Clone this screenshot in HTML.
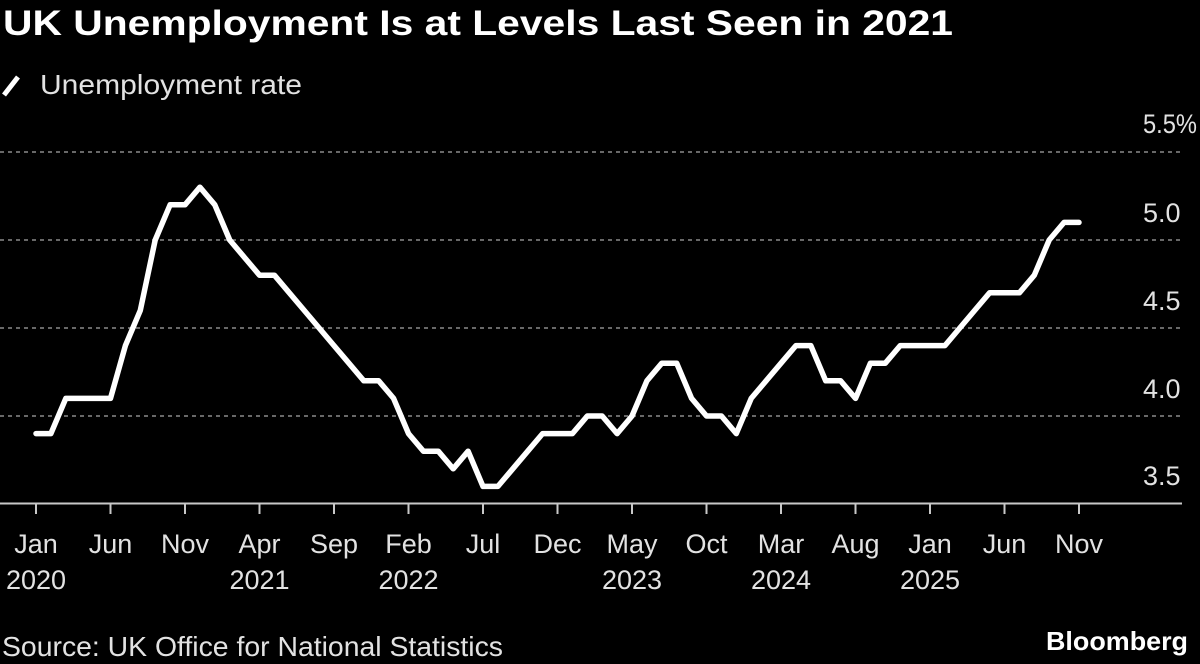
<!DOCTYPE html>
<html>
<head>
<meta charset="utf-8">
<style>
  html, body { margin: 0; padding: 0; background: #000; }
  body { width: 1200px; height: 664px; overflow: hidden; }
  svg { display: block; }
  text { font-family: "Liberation Sans", "DejaVu Sans", sans-serif; }
</style>
</head>
<body>
<svg width="1200" height="664" viewBox="0 0 1200 664" xmlns="http://www.w3.org/2000/svg">
  <rect x="0" y="0" width="1200" height="664" fill="#000"/>

  <!-- Title -->
  <text x="3" y="35" font-size="35" font-weight="bold" fill="#ffffff" textLength="950" lengthAdjust="spacingAndGlyphs">UK Unemployment Is at Levels Last Seen in 2021</text>

  <!-- Legend -->
  <line x1="4" y1="95" x2="18" y2="77" stroke="#ffffff" stroke-width="5" stroke-linecap="butt"/>
  <text x="40" y="94" font-size="28" fill="#e2e2e2" textLength="262" lengthAdjust="spacingAndGlyphs">Unemployment rate</text>

  <!-- Gridlines -->
  <g stroke="#8a8a8a" stroke-width="1.6" stroke-dasharray="4 4">
    <line x1="0" y1="152" x2="1182" y2="152"/>
    <line x1="0" y1="240" x2="1182" y2="240"/>
    <line x1="0" y1="328" x2="1182" y2="328"/>
    <line x1="0" y1="416" x2="1182" y2="416"/>
  </g>

  <!-- Baseline -->
  <line x1="0" y1="503.5" x2="1182" y2="503.5" stroke="#c8c8c8" stroke-width="2"/>

  <!-- Ticks -->
  <g stroke="#c8c8c8" stroke-width="2">
    <line x1="36" y1="503" x2="36" y2="514"/>
    <line x1="110.5" y1="503" x2="110.5" y2="514"/>
    <line x1="185" y1="503" x2="185" y2="514"/>
    <line x1="259.5" y1="503" x2="259.5" y2="514"/>
    <line x1="334" y1="503" x2="334" y2="514"/>
    <line x1="408.5" y1="503" x2="408.5" y2="514"/>
    <line x1="483" y1="503" x2="483" y2="514"/>
    <line x1="557.5" y1="503" x2="557.5" y2="514"/>
    <line x1="632" y1="503" x2="632" y2="514"/>
    <line x1="706.5" y1="503" x2="706.5" y2="514"/>
    <line x1="781" y1="503" x2="781" y2="514"/>
    <line x1="855.5" y1="503" x2="855.5" y2="514"/>
    <line x1="930" y1="503" x2="930" y2="514"/>
    <line x1="1004.5" y1="503" x2="1004.5" y2="514"/>
    <line x1="1079" y1="503" x2="1079" y2="514"/>
  </g>

  <!-- Y labels -->
  <g font-size="27" fill="#e2e2e2">
    <text x="1143" y="133" textLength="54" lengthAdjust="spacingAndGlyphs">5.5%</text>
    <text x="1143" y="222">5.0</text>
    <text x="1143" y="310">4.5</text>
    <text x="1143" y="398">4.0</text>
    <text x="1143" y="485">3.5</text>
  </g>

  <!-- X labels -->
  <g font-size="27" fill="#e2e2e2" text-anchor="middle">
    <text x="36" y="553">Jan</text>
    <text x="110.5" y="553">Jun</text>
    <text x="185" y="553">Nov</text>
    <text x="259.5" y="553">Apr</text>
    <text x="334" y="553">Sep</text>
    <text x="408.5" y="553">Feb</text>
    <text x="483" y="553">Jul</text>
    <text x="557.5" y="553">Dec</text>
    <text x="632" y="553">May</text>
    <text x="706.5" y="553">Oct</text>
    <text x="781" y="553">Mar</text>
    <text x="855.5" y="553">Aug</text>
    <text x="930" y="553">Jan</text>
    <text x="1004.5" y="553">Jun</text>
    <text x="1079" y="553">Nov</text>

    <text x="36" y="589">2020</text>
    <text x="259.5" y="589">2021</text>
    <text x="408.5" y="589">2022</text>
    <text x="632" y="589">2023</text>
    <text x="781" y="589">2024</text>
    <text x="930" y="589">2025</text>
  </g>

  <!-- Data line -->
  <polyline fill="none" stroke="#ffffff" stroke-width="5.5" stroke-linejoin="round" stroke-linecap="round"
    points="
    36,433.6 50.9,433.6 65.8,398.4 80.7,398.4 95.6,398.4 110.5,398.4
    125.4,345.6 140.3,310.4 155.2,240 170.1,204.8 185,204.8 199.9,187.2
    214.8,204.8 229.7,240 244.6,257.6 259.5,275.2 274.4,275.2 289.3,292.8
    304.2,310.4 319.1,328 334,345.6 348.9,363.2 363.8,380.8 378.7,380.8
    393.6,398.4 408.5,433.6 423.4,451.2 438.3,451.2 453.2,468.8 468.1,451.2
    483,486.4 497.9,486.4 512.8,468.8 527.7,451.2 542.6,433.6 557.5,433.6
    572.4,433.6 587.3,416 602.2,416 617.1,433.6 632,416 646.9,380.8
    661.8,363.2 676.7,363.2 691.6,398.4 706.5,416 721.4,416 736.3,433.6
    751.2,398.4 766.1,380.8 781,363.2 795.9,345.6 810.8,345.6 825.7,380.8
    840.6,380.8 855.5,398.4 870.4,363.2 885.3,363.2 900.2,345.6 915.1,345.6
    930,345.6 944.9,345.6 959.8,328 974.7,310.4 989.6,292.8 1004.5,292.8
    1019.4,292.8 1034.3,275.2 1049.2,240 1064.1,222.4 1079,222.4"/>

  <!-- Source -->
  <text x="2" y="656" font-size="28" fill="#e2e2e2" textLength="501" lengthAdjust="spacingAndGlyphs">Source: UK Office for National Statistics</text>

  <!-- Bloomberg -->
  <text x="1046" y="650" font-size="26" font-weight="bold" fill="#ffffff" textLength="142" lengthAdjust="spacingAndGlyphs">Bloomberg</text>
</svg>
</body>
</html>
